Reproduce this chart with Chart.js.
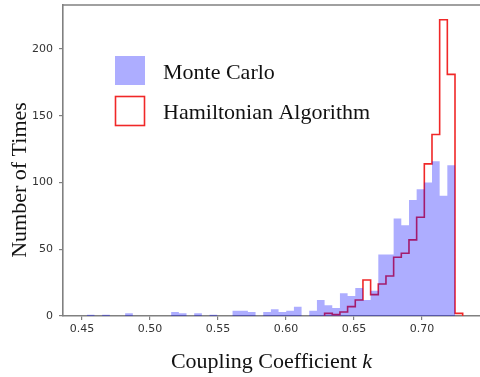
<!DOCTYPE html>
<html>
<head>
<meta charset="utf-8">
<script src="https://cdn.jsdelivr.net/npm/chart.js@4/dist/chart.umd.min.js"></script>
<style>
  html, body { margin: 0; padding: 0; background: #fff; }
  #wrap { width: 480px; height: 377px; position: relative; }
</style>
</head>
<body>
<div id="wrap"><canvas id="hist"></canvas></div>
<script>
/* histogram bins (coupling coefficient k) */
const binStart = 0.4535;
const binWidth = 0.00564;

/* counts per bin */
const monteCarloCounts = [1, 0, 1, 0, 0, 2, 0, 0, 0, 0, 0, 3, 2, 0, 2, 0, 1, 0, 0, 4,
  4, 3, 0, 3, 5, 3, 4, 7, 0, 4, 12, 8, 6, 17, 15, 21, 12, 19, 46, 46,
  73, 68, 87, 95, 100, 116, 90, 113];
const hamiltonianFirstBin = 31;
const hamiltonianCounts = [2, 1, 3, 7, 12, 27, 16, 24, 30, 44, 47, 57, 74, 114, 136, 222, 181, 2];

const seriesLabels = ["Monte Carlo", "Hamiltonian Algorithm"];
const xTicks = [0.45, 0.50, 0.55, 0.60, 0.65, 0.70];
const yTicks = [0, 50, 100, 150, 200];

const blueFill = "rgba(0, 0, 255, 0.32)";
const redLine = "rgb(240, 40, 40)";
const spine = "#808080";

// counts -> step outline: up from baseline, across each bin, back down
function stepPoints(counts, firstBin) {
  const pts = [{ x: binStart + firstBin * binWidth, y: 0 }];
  counts.forEach((c, i) => {
    pts.push({ x: binStart + (firstBin + i) * binWidth, y: c });
  });
  const end = binStart + (firstBin + counts.length) * binWidth;
  pts.push({ x: end, y: counts[counts.length - 1] });
  pts.push({ x: end, y: 0 });
  return pts;
}

/* legend, top spine and axis titles */
const decor = {
  id: "decor",
  afterDraw(chart) {
    const c = chart.ctx;
    const a = chart.chartArea;
    c.save();
    c.strokeStyle = spine;
    c.lineWidth = 1.6;
    c.beginPath();
    c.moveTo(a.left, a.top);
    c.lineTo(a.right, a.top);
    c.stroke();

    // legend
    c.fillStyle = blueFill;
    c.fillRect(115, 56, 30, 29);
    c.strokeStyle = redLine;
    c.lineWidth = 1.6;
    c.strokeRect(115.5, 96.5, 29, 29);
    c.fillStyle = "#111";
    c.font = "22px 'Liberation Serif'";
    c.textBaseline = "alphabetic";
    c.textAlign = "left";
    c.fillText(seriesLabels[0], 163, 79);
    c.fillText(seriesLabels[1], 163, 119);

    // x title, italic k
    const t1 = "Coupling Coefficient ";
    const w1 = c.measureText(t1).width;
    c.font = "italic 22px 'Liberation Serif'";
    const w2 = c.measureText("k").width;
    const x0 = (a.left + a.right) / 2 - (w1 + w2) / 2;
    c.font = "22px 'Liberation Serif'";
    c.fillText(t1, x0, 368);
    c.font = "italic 22px 'Liberation Serif'";
    c.fillText("k", x0 + w1, 368);

    // y title
    c.font = "22px 'Liberation Serif'";
    c.translate(26, 180);
    c.rotate(-Math.PI / 2);
    c.textAlign = "center";
    c.fillText("Number of Times", 0, 0);
    c.restore();
  }
};

new Chart(document.getElementById("hist"), {
  type: "line",
  data: {
    datasets: [
      {
        label: seriesLabels[0],
        data: stepPoints(monteCarloCounts, 0),
        stepped: "before",
        fill: "origin",
        backgroundColor: blueFill,
        borderColor: "rgba(0,0,0,0)",
        borderWidth: 0,
        pointRadius: 0,
        order: 0
      },
      {
        label: seriesLabels[1],
        data: stepPoints(hamiltonianCounts, hamiltonianFirstBin),
        stepped: "before",
        fill: false,
        borderColor: redLine,
        borderWidth: 1.6,
        pointRadius: 0,
        order: 1
      }
    ]
  },
  options: {
    responsive: true,
    maintainAspectRatio: false,
    animation: false,
    layout: { padding: { top: 5, left: 0, right: 0, bottom: 0 } },
    plugins: { legend: { display: false }, tooltip: { enabled: false } },
    scales: {
      x: {
        type: "linear",
        min: 0.436,
        max: 0.7426,
        afterBuildTicks: s => { s.ticks = xTicks.map(v => ({ value: v })); },
        afterFit: s => { s.height = 61; s.paddingLeft = 0; s.paddingRight = 0; },
        grid: { drawOnChartArea: false, drawTicks: true, tickLength: 4, color: spine, lineWidth: 1.2 },
        border: { display: true, color: spine, width: 1.6 },
        ticks: {
          color: "#333",
          font: { family: "DejaVu Sans", size: 11 },
          padding: 3,
          maxRotation: 0,
          callback: v => v.toFixed(2)
        }
      },
      y: {
        min: 0,
        max: 233,
        afterBuildTicks: s => { s.ticks = yTicks.map(v => ({ value: v })); },
        afterFit: s => { s.width = 63; s.paddingTop = 0; s.paddingBottom = 0; },
        grid: { drawOnChartArea: false, drawTicks: true, tickLength: 4, color: spine, lineWidth: 1.2 },
        border: { display: true, color: spine, width: 1.6 },
        ticks: {
          color: "#333",
          font: { family: "DejaVu Sans", size: 11 },
          padding: 6
        }
      }
    }
  },
  plugins: [decor]
});
</script>
</body>
</html>
